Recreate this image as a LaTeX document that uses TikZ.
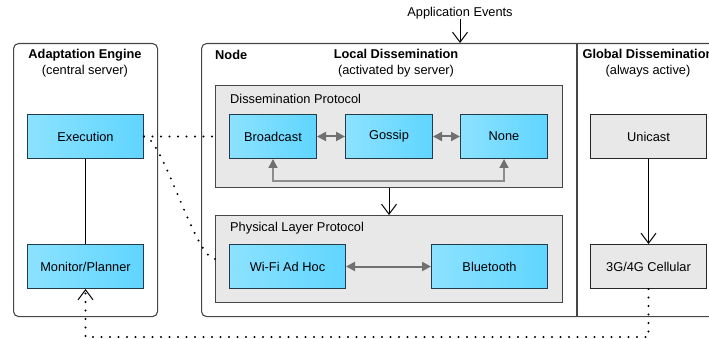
\documentclass[tikz,border=0pt]{standalone}
\usepackage{fontspec}
\setmainfont{Liberation Sans}
\usetikzlibrary{arrows.meta,calc}
\definecolor{bluefillL}{RGB}{140,226,255}
\definecolor{bluefillR}{RGB}{96,213,255}
\definecolor{blueborder}{RGB}{35,60,75}
\definecolor{grayfill}{RGB}{232,232,232}
\definecolor{grayborder}{RGB}{70,70,70}
\definecolor{arrowgray}{RGB}{112,112,112}
\definecolor{linkgray}{RGB}{140,140,140}
\begin{document}
\begin{tikzpicture}[x=1pt,y=-1pt,
  every node/.style={font=\fontsize{12.8}{16}\selectfont, inner sep=0pt},
  outerbox/.style={draw=grayborder, line width=1.1pt, rounded corners=5pt, fill=white, anchor=north west},
  groupbox/.style={draw=grayborder, line width=1.1pt, fill=grayfill, anchor=north west},
  bluebox/.style={draw=blueborder, line width=1pt, left color=bluefillL, right color=bluefillR, minimum height=44pt, anchor=north west},
  graybox/.style={draw=black!85, line width=1pt, fill=grayfill, minimum height=44pt, minimum width=116pt, anchor=north west},
  title/.style={align=center},
  grouplabel/.style={anchor=west},
  dotline/.style={line width=2.2pt, line cap=round, dash pattern=on 0pt off 8.5pt},
  blackarrow/.style={line width=1pt, -{Straight Barb[length=10pt,width=15pt,line width=1pt]}},
  grayarrow/.style={arrowgray, line width=2pt, {Triangle[length=9pt,width=9pt]}-{Triangle[length=9pt,width=9pt]}},
  loopback/.style={linkgray, line width=1.4pt, {Triangle[length=9pt,width=9pt,color=arrowgray,fill=arrowgray]}-{Triangle[length=9pt,width=9pt,color=arrowgray,fill=arrowgray]}},
  link/.style={line width=1pt}
]
\useasboundingbox (0,0) rectangle (709,339);
\clip (0,0) rectangle (709,339);

% outer containers
\node[outerbox, minimum width=144pt, minimum height=273pt] (ae) at (13,43) {};
\node[outerbox, minimum width=560pt, minimum height=273pt] (nodebox) at (201,43) {};
\coordinate (divtop) at (577,43);
\coordinate (divbot) at (577,316);
\draw[grayborder, line width=1.1pt] (divtop) -- (divbot);

% titles
\node[title] (aetitle) at (85,63) {\textbf{Adaptation Engine}\\(central server)};
\node[anchor=west] (nodetitle) at (215,55) {\textbf{Node}};
\node[title] (localtitle) at (396,63) {\textbf{Local Dissemination}\\(activated by server)};
\node[title] (globaltitle) at (648,63) {\textbf{Global Dissemination}\\(always active)};
\node (appev) at (460,13) {Application Events};

% adaptation engine
\node[bluebox, minimum width=116pt] (exec) at (27,114) {Execution};
\node[bluebox, minimum width=116pt] (mon) at (27,244) {Monitor/Planner};

% group boxes
\node[groupbox, minimum width=347pt, minimum height=102pt] (dp) at (215,85) {};
\node[grouplabel] (dplabel) at ($(dp.north west)+(15,14)$) {Dissemination Protocol};
\node[groupbox, minimum width=347pt, minimum height=87pt] (pl) at (215,215) {};
\node[grouplabel] (pllabel) at ($(pl.north west)+(15,13)$) {Physical Layer Protocol};

% dissemination protocols
\node[bluebox, minimum width=87pt] (bc) at (229,114) {Broadcast};
\node[bluebox, minimum width=87pt] (gossip) at (345,114) {Gossip};
\node[bluebox, minimum width=87pt] (none) at (460,114) {None};

% physical layer
\node[bluebox, minimum width=116pt] (wifi) at (229,244) {Wi-Fi Ad Hoc};
\node[bluebox, minimum width=116pt] (bt) at (431,244) {Bluetooth};

% global
\node[graybox] (unicast) at (590,114) {Unicast};
\node[graybox] (cell) at (590,244) {3G/4G Cellular};

% connectors
\draw[link] (exec.south) -- (mon.south |- mon.north);
\draw[grayarrow] (bc.east) -- (gossip.west);
\draw[grayarrow] (gossip.east) -- (none.west);
\draw[loopback] (bc.south) -- ++(0,22) -| (none.south);
\draw[grayarrow] (wifi.east) -- (bt.west);
\draw[blackarrow] (appev.south) -- (appev.south |- nodebox.north);
\draw[blackarrow] (dp.south) -- (pl.north);
\draw[blackarrow] (unicast.south) -- (cell.north);

% dotted links
\coordinate (plin) at ($(pl.north west)+(0,44)$);
\draw[dotline] (exec.east) -- (exec.east -| dp.west);
\draw[dotline] (exec.east) .. controls (162,135) and (195,259) .. (plin);
\draw[dotline, -{Straight Barb[length=10pt,width=15pt,line width=1pt]}] (cell.south) -- ++(0,48) -| (mon.south);
\end{tikzpicture}
\end{document}
